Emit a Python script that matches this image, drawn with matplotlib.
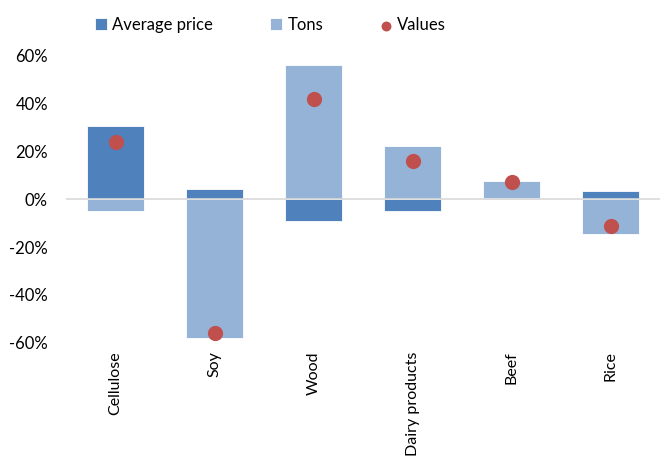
import matplotlib.pyplot as plt
import numpy as np

plt.rcParams['font.family'] = ['Lato', 'DejaVu Sans']

categories = ['Cellulose', 'Soy', 'Wood', 'Dairy products', 'Beef', 'Rice']
avg_price = [30.5, 4.3, -9.2, -5.0, 0.6, 3.3]
tons = [-5.0, -58.0, 55.8, 22.2, 6.9, -14.5]
values = [23.9, -55.8, 41.7, 15.8, 7.3, -11.4]
yticks = [-60, -40, -20, 0, 20, 40, 60]

c_price = '#4F81BD'
c_tons = '#95B3D7'
c_val = '#C0504D'

fig = plt.figure(figsize=(6.6, 4.57), dpi=100)
ax = fig.add_axes([0.1, 0.2495, 0.9, 0.63])

x = np.arange(len(categories))
price = np.array(avg_price)
tn = np.array(tons)

# excel-style stacking: positives stack up, negatives stack down
pos_base = np.where(price > 0, price, 0)
neg_base = np.where(price < 0, price, 0)
tons_bottom = np.where(tn >= 0, pos_base, neg_base)

w = 0.58
b1 = ax.bar(x, price, w, color=c_price, edgecolor='white', linewidth=0.6, label='Average price', zorder=2)
b2 = ax.bar(x, tn, w, bottom=tons_bottom, color=c_tons, edgecolor='white', linewidth=0.6, label='Tons', zorder=2)
ax.axhline(0, color='#D9D9D9', linewidth=1.2, zorder=3)
sc = ax.scatter(x, values, s=120, color=c_val, zorder=4, label='Values', linewidths=0)

ax.set_xlim(-0.5, 5.5)
ax.set_ylim(-60, 60)
ax.set_yticks(yticks)
ax.set_yticklabels([f'{v}%' for v in yticks], fontsize=12)
ax.set_xticks(x)
ax.set_xticklabels(categories, rotation=90, fontsize=11.5, va='top')
ax.tick_params(length=0)
ax.tick_params(axis='x', pad=6)
ax.tick_params(axis='y', pad=13)
for s in ax.spines.values():
    s.set_visible(False)

fig.legend([b1, b2, sc], ['Average price', 'Tons', 'Values'],
           loc='center', bbox_to_anchor=(0.41, 0.945), ncol=3, frameon=False,
           fontsize=12, handlelength=0.75, handleheight=0.75, handletextpad=0.3,
           columnspacing=3.4, markerscale=0.65)

fig.savefig('out.png', dpi=100)
